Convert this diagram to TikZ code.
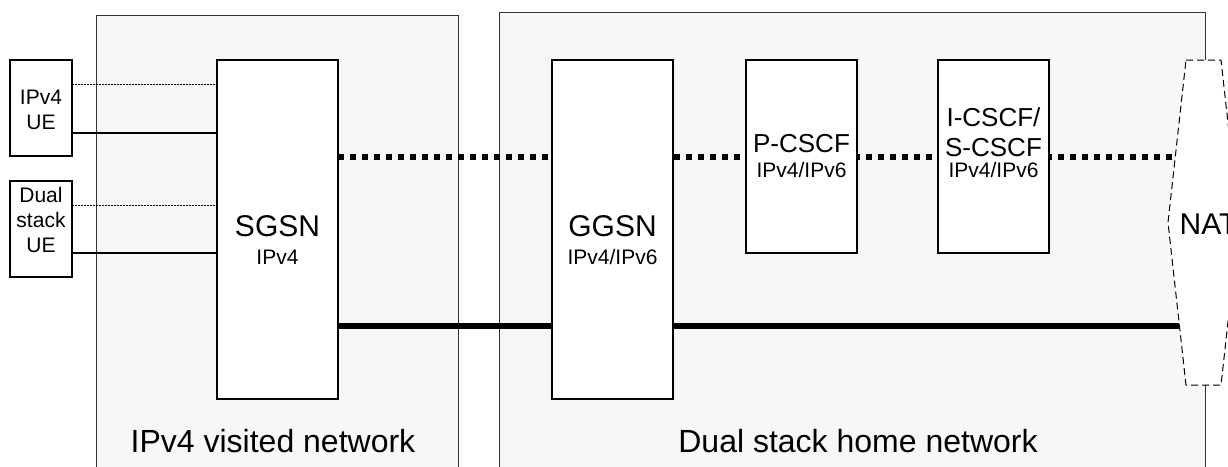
\documentclass[tikz,border=0pt]{standalone}
\usepackage{fontspec}
\setmainfont{Liberation Sans}
\usetikzlibrary{positioning, calc, backgrounds}

\definecolor{netgray}{HTML}{F7F7F7}
\newcommand{\bigname}[1]{{\fontsize{30}{30}\selectfont #1}}
\newcommand{\midname}[1]{{\fontsize{26}{26}\selectfont #1}}

\begin{document}
\begin{tikzpicture}[
    x = 1pt, y = -1pt,
    node distance = 73pt,
    every node/.style = {inner sep=0pt, outer sep=0pt},
    netbox/.style = {draw=black!80, fill=netgray, line width=1pt,
        anchor=north west, minimum height=480pt},
    elem/.style = {draw, fill=white, rectangle, line width=1.3pt,
        minimum width=121pt, minimum height=339pt},
    cscf/.style = {elem, minimum width=111pt, minimum height=193pt},
    ue/.style = {elem, minimum width=62pt, minimum height=96pt},
    elemtext/.style = {align=center, font=\fontsize{21}{28}\selectfont},
    netname/.style = {font=\fontsize{32}{36}\selectfont},
    natbox/.style = {minimum width=35pt, minimum height=325pt},
    natline/.style = {draw, fill=white, line width=1pt, dash pattern=on 7pt off 4pt},
    sipline/.style = {line width=6pt, dash pattern=on 6pt off 6pt},
    bearer/.style = {line width=6pt},
    uplink/.style = {line width=1.2pt},
    updots/.style = {line width=1pt, dash pattern=on 1.5pt off 1.5pt}
  ]
    \useasboundingbox (0,0) rectangle (1228,466);

    % terminals
    \node[ue, label={[elemtext, yshift=-2pt]center:IPv4\\[-3pt]UE}] (ipvue) at (41,108) {};
    \node[ue, below=25pt of ipvue,
          label={[elemtext, yshift=9pt]center:Dual\\[-3pt]stack\\[-3pt]UE}] (dsue) {};

    % core nodes
    \node[elem, label={[elemtext, yshift=-10.5pt]center:\bigname{SGSN}\\IPv4}] (sgsn) at (277.5,229.5) {};
    \node[elem, right=214pt of sgsn,
          label={[elemtext, yshift=-11pt]center:\bigname{GGSN}\\IPv4/IPv6}] (ggsn) {};
    \node[cscf, right=73pt of ggsn.north east, anchor=north west,
          label={[elemtext]center:\midname{P-CSCF}\\[-3pt]IPv4/IPv6}] (pcscf) {};
    \node[cscf, right=81pt of pcscf,
          label={[elemtext, yshift=13.5pt]center:\midname{I-CSCF/}\\[2pt]\midname{S-CSCF}\\[-7pt]IPv4/IPv6}] (icscf) {};

    % NAT
    \node[natbox] (nat) at (1203.5,222.5) {};
    \draw[natline] (nat.north west) -- (nat.north east) -- ([xshift=18pt]nat.east)
        -- (nat.south east) -- (nat.south west) -- ([xshift=-18pt]nat.west) -- cycle;
    \node[font=\fontsize{30}{30}\selectfont] (nattext) at ([xshift=5pt, yshift=-1.5pt]nat.center) {NAT};

    \begin{scope}[on background layer]
        % networks
        \node[netbox, minimum width=362pt,
              label={[netname, xshift=-4pt, yshift=-186pt]center:IPv4 visited network}] (visited) at (96,15) {};
        \node[netbox, minimum width=706pt,
              label={[netname, xshift=6pt, yshift=-189pt]center:Dual stack home network}] (home) at (499,12) {};

        % signalling and bearer
        \draw[sipline] (sgsn.east |- pcscf.center) -- (nat.center |- pcscf.center);
        \coordinate (busl) at ([yshift=-96pt]sgsn.east);
        \draw[bearer] (busl) -- (busl -| nat.center);

        % radio links
        \draw[updots] ($(ipvue.east)+(0,-24)$) -- ($(sgsn.west |- ipvue.east)+(0,-24)$);
        \draw[uplink] ($(ipvue.east)+(0,25)$) -- ($(sgsn.west |- ipvue.east)+(0,25)$);
        \draw[updots] ($(dsue.east)+(0,-24)$) -- ($(sgsn.west |- dsue.east)+(0,-24)$);
        \draw[uplink] ($(dsue.east)+(0,24)$) -- ($(sgsn.west |- dsue.east)+(0,24)$);
    \end{scope}
\end{tikzpicture}
\end{document}
